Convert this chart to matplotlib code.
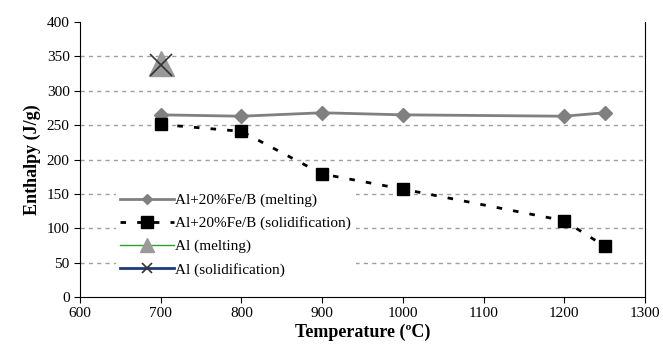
import matplotlib
matplotlib.use("Agg")
import matplotlib.pyplot as plt

temps_melt = [700, 800, 900, 1000, 1200, 1250]
enth_melt = [265, 263, 268, 265, 263, 268]
temps_sol = [700, 800, 900, 1000, 1200, 1250]
enth_sol = [251, 241, 179, 157, 111, 74]
al_temp = [700]
al_melt = [340]
al_sol = [338]

xticks = [600, 700, 800, 900, 1000, 1100, 1200, 1300]
yticks = [0, 50, 100, 150, 200, 250, 300, 350, 400]

plt.rcParams['font.family'] = ['Liberation Serif', 'DejaVu Serif']

fig = plt.figure(figsize=(6.63, 3.53), dpi=100)
ax = fig.add_axes([0.1207, 0.1586, 0.852, 0.779])

for y in yticks[1:-1]:
    ax.axhline(y, color='#a0a0a0', lw=1, ls=(0, (3, 3)), zorder=0)

ax.plot(temps_melt, enth_melt, color='#808080', lw=2, marker='D', ms=7,
        label='Al+20%Fe/B (melting)', zorder=3)
ax.plot(temps_sol, enth_sol, color='black', lw=2, ls=(0, (2, 4)), marker='s', ms=9,
        label='Al+20%Fe/B (solidification)', zorder=4)
ax.plot(al_temp, al_melt, color='#2ca02c', lw=1, marker='^', ms=18, mfc='#9a9a9a', mec='#9a9a9a',
        label='Al (melting)', zorder=3)
ax.plot(al_temp, al_sol, color='#1f3a7a', lw=2, marker='x', ms=16, mew=1.2, mec='#333333',
        label='Al (solidification)', zorder=5)

ax.set_xlim(600, 1300)
ax.set_ylim(0, 400)
ax.set_xticks(xticks)
ax.set_yticks(yticks)
ax.tick_params(direction='out', length=4, labelsize=11)
ax.spines['top'].set_visible(False)
ax.set_xlabel('Temperature (\u00baC)', fontsize=13, fontweight='bold', labelpad=2)
ax.set_ylabel('Enthalpy (J/g)', fontsize=13, fontweight='bold', labelpad=4)

leg = ax.legend(loc='lower left', bbox_to_anchor=(0.05, 0.03), frameon=True, fontsize=11,
                handlelength=3.5, handletextpad=0.1, labelspacing=0.6, borderpad=0.3)
leg.get_frame().set_edgecolor('none')
leg.get_frame().set_facecolor('white')
leg.get_frame().set_alpha(1)
for h, ms in zip(leg.legend_handles, [5, 8, 10, 7]):
    h.set_markersize(ms)

fig.savefig('out.png', dpi=100)
